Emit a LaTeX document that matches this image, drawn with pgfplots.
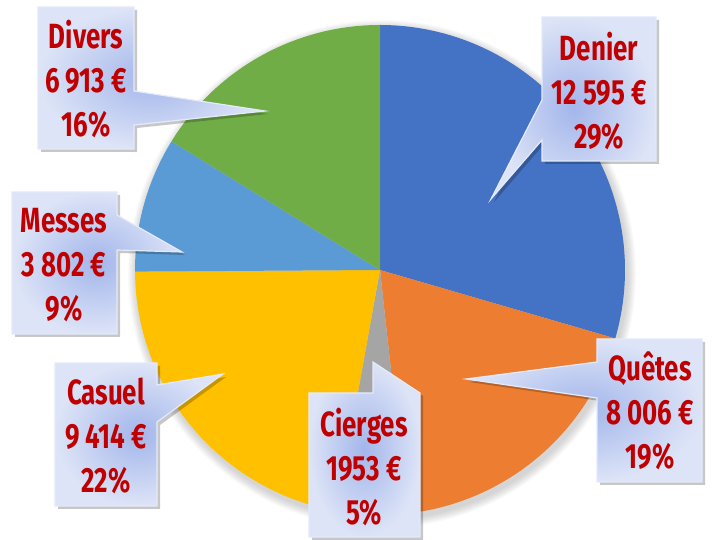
\documentclass[border=0pt]{standalone}
\usepackage{pgfplots}
\pgfplotsset{compat=1.18}
\usepackage{pgfplotstable}
\usepackage{fontspec}
\setmainfont{Fira Sans}
\newfontfamily\calloutfont{Fira Sans}[FakeStretch=0.74]
\usetikzlibrary{shadows}

\definecolor{txtred}{HTML}{C00000}
\definecolor{cIn}{HTML}{A3B6EB}
\definecolor{cOut}{HTML}{DDE4F7}
\definecolor{cBorder}{HTML}{E4EAF9}

\pgfplotstableread{
label value color
Denier 12595 4472C4
Quetes 8006 ED7D31
Cierges 1953 A5A5A5
Casuel 9414 FFC000
Messes 3802 5B9BD5
Divers 6913 70AD47
}\piedata

\tikzset{
  callout/.style={shading=radial, inner color=cIn, outer color=cOut, draw=cBorder,
    line width=1.2pt, line join=miter,
    drop shadow={shadow xshift=3pt, shadow yshift=-3pt, opacity=0.22, fill=black}},
  ctext/.style={font=\calloutfont\bfseries\fontsize{35}{44}\selectfont, text=txtred, align=center, inner sep=0pt}
}

\begin{document}
\begin{tikzpicture}
\def\total{0}
\pgfplotsforeachungrouped \i in {0,...,5}{%
  \pgfplotstablegetelem{\i}{value}\of\piedata
  \edef\total{\fpeval{\total+\pgfplotsretval}}%
}
\def\cum{0}
\pgfplotsforeachungrouped \i in {0,...,5}{%
  \pgfplotstablegetelem{\i}{value}\of\piedata
  \let\val\pgfplotsretval
  \expandafter\xdef\csname sa\i\endcsname{\fpeval{90-360*\cum/\total}}%
  \edef\cum{\fpeval{\cum+\val}}%
  \expandafter\xdef\csname ea\i\endcsname{\fpeval{90-360*\cum/\total}}%
  \pgfplotstablegetelem{\i}{color}\of\piedata
  \edef\tmp{\noexpand\definecolor{slice\i}{HTML}{\pgfplotsretval}}\tmp
}
\begin{axis}[x=1pt, y=1pt, xmin=0, xmax=714, ymin=0, ymax=540,
  scale only axis, hide axis, clip=false]
% soft shadow of the pie
\pgfplotsinvokeforeach{1,...,9}{%
  \fill[black, opacity=0.018] (382,266) circle[radius={245pt+#1pt}];
}
% slices
\pgfplotsinvokeforeach{0,...,5}{%
  \edef\tmp{\noexpand\fill[slice#1] (380,270) -- ++(\csname sa#1\endcsname:245pt)
    arc[start angle=\csname sa#1\endcsname, end angle=\csname ea#1\endcsname, radius=245pt] -- cycle;}\tmp
}
% callouts
\draw[callout] (38,533) -- (134,533) -- (134,449) -- (265,429) -- (134,415) -- (134,391) -- (38,391) -- cycle;
\node[ctext] at (86,461) {Divers\\6 913 €\\16\%};

\draw[callout] (542,523) -- (656,523) -- (656,379) -- (542,379) -- (542,400) -- (491,341) -- (542,440) -- cycle;
\node[ctext] at (599,449) {Denier\\12 595 €\\29\%};

\draw[callout] (597,201) -- (702,201) -- (702,58) -- (597,58) -- (597,142) -- (466,161) -- (597,178) -- cycle;
\node[ctext] at (650,129) {Quêtes\\8 006 €\\19\%};

\draw[callout] (309,147) -- (373,147) -- (373,178) -- (420,147) -- (420,3) -- (309,3) -- cycle;
\node[ctext] at (364,73) {Cierges\\1953 €\\5\%};

\draw[callout] (12,348) -- (117,348) -- (117,325) -- (182,288) -- (117,290) -- (117,206) -- (12,206) -- cycle;
\node[ctext] at (64,275) {Messes\\3 802 €\\9\%};

\draw[callout] (55,177) -- (157,177) -- (157,155) -- (223,166) -- (157,118) -- (157,34) -- (55,34) -- cycle;
\node[ctext] at (106,104) {Casuel\\9 414 €\\22\%};
\end{axis}
\pgfresetboundingbox
\path[use as bounding box] (current axis.south west) rectangle (current axis.north east);
\end{tikzpicture}
\end{document}
